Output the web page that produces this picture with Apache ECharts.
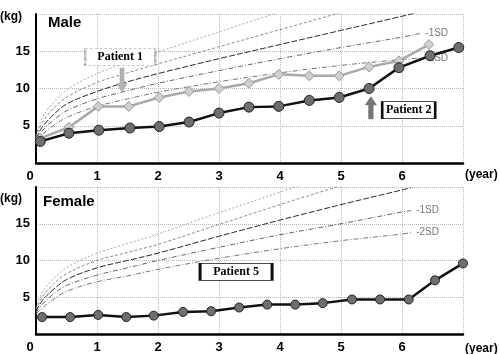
<!DOCTYPE html>
<html><head><meta charset="utf-8">
<script src="https://cdn.jsdelivr.net/npm/echarts@6/dist/echarts.min.js"></script>
<style>html,body{margin:0;padding:0;background:#fff}#c{width:500px;height:354px}</style>
</head><body><div id="c"></div>
<script>
// ---- data ----
const xTicks = [0, 1, 2, 3, 4, 5, 6, 7];
const yTicks = [0, 5, 10, 15, 20];

// Male reference curves
const ageM      = [0,   0.1, 0.25, 0.5, 1,    1.5,  2,    3,    4,    5,    6,    6.3];
const maleP2SD  = [3.7, 6.0, 7.8,  9.8, 12.0, 13.5, 14.9, 17.6, 20.3, 23.0, 25.5, 26.0];
const maleP1SD  = [3.5, 5.4, 7.0,  8.8, 10.8, 12.1, 13.3, 15.6, 17.9, 20.2, 22.5, 23.2];
const maleMean  = [3.3, 4.8, 6.2,  7.9,  9.6, 10.9, 12.0, 14.0, 15.9, 17.8, 19.7, 20.3];
const maleM1SD  = [3.1, 4.3, 5.5,  7.0,  8.6,  9.7, 10.7, 12.4, 14.0, 15.5, 16.9, 17.4];
const maleM2SD  = [2.9, 3.8, 4.8,  6.1,  7.6,  8.6,  9.5, 10.9, 12.1, 13.1, 13.9, 14.1];

// Female reference curves
const ageF       = [0,   0.1, 0.25, 0.5, 1,    1.5,  2,    3,    4,    5,    6,    6.15];
const femP2SD    = [3.5, 5.6, 7.2,  9.0, 11.0, 12.3, 13.6, 16.5, 19.3, 22.1, 24.8, 25.2];
const femP1SD    = [3.3, 5.0, 6.5,  8.2, 10.0, 11.1, 12.2, 14.9, 17.6, 20.2, 22.8, 23.2];
const femMean    = [3.1, 4.5, 5.8,  7.4,  9.0, 10.0, 11.0, 13.3, 15.5, 17.6, 19.6, 19.9];
const femM1SD    = [2.9, 4.0, 5.2,  6.6,  8.0,  9.0, 10.0, 11.8, 13.5, 15.0, 16.6, 16.8];
const femM2SD    = [2.7, 3.5, 4.5,  5.8,  7.1,  7.9,  8.8, 10.3, 11.6, 12.7, 13.6, 13.8];

// Patients
const p1Years = [0.07, 0.54, 1.02, 1.52, 2.02, 2.51, 3.0, 3.49, 3.98, 4.48, 4.97, 5.46, 5.95, 6.44];
const p1Kg    = [3.3, 4.8, 7.6, 7.6, 8.8, 9.6, 10.0, 10.7, 11.9, 11.7, 11.7, 12.9, 13.7, 15.9];
const p2Years = [0.07, 0.54, 1.03, 1.54, 2.02, 2.51, 3.0, 3.49, 3.98, 4.48, 4.97, 5.46, 5.95, 6.46, 6.93];
const p2Kg    = [2.9, 4.0, 4.4, 4.7, 4.9, 5.5, 6.7, 7.5, 7.6, 8.4, 8.8, 10.0, 12.8, 14.4, 15.5];
const p5Years = [0.1, 0.56, 1.02, 1.48, 1.93, 2.41, 2.87, 3.33, 3.79, 4.25, 4.7, 5.18, 5.64, 6.11, 6.54, 7.0];
const p5Kg    = [2.3, 2.3, 2.6, 2.3, 2.5, 3.0, 3.1, 3.6, 4.0, 4.0, 4.2, 4.7, 4.7, 4.7, 7.3, 9.6];

// Annotations (data coordinates)
const notes = {
  p1Box: [1.38, 14.2], p1Arrow: [1.41, 11.1],
  p2Box: [6.11, 7.1],  p2Arrow: [5.49, 7.4],
  p5Box: [3.28, 8.45]
};

// ---- build ----
const zip = (a, b) => a.map((v, i) => [v, b[i]]);
const bold = 'bold 13px "Liberation Sans", Arial, sans-serif';

function curve(name, xi, ages, vals, color, type, endLbl) {
  return {
    type: 'line', name, xAxisIndex: xi, yAxisIndex: xi, data: zip(ages, vals),
    smooth: 0.35, showSymbol: false, silent: true, z: 2,
    lineStyle: { color, width: 1, type },
    endLabel: endLbl ? { show: true, formatter: endLbl, color: '#777', fontSize: 10,
      fontFamily: '"Liberation Sans", Arial', distance: 5 } : { show: false }
  };
}

const xAxisBase = (i) => ({
  type: 'value', gridIndex: i, min: 0, max: 7, interval: 1,
  axisLine: { show: true, lineStyle: { color: '#000', width: 2.5 } },
  axisTick: { show: false },
  splitLine: { show: true, lineStyle: { color: '#b8b8b8', type: 'dotted', width: 1 } },
  axisLabel: {
    margin: 7, color: '#000', fontSize: 13, fontWeight: 'bold', fontFamily: '"Liberation Sans", Arial',
    formatter: v => v === 7 ? '' : (v === 0 ? '{z|0}' : String(v)),
    rich: { z: { fontSize: 13, fontWeight: 'bold', color: '#000', padding: [0, 12, 0, 0] } }
  }
});
const yAxisBase = (i) => ({
  type: 'value', gridIndex: i, min: 0, max: 20, interval: 5,
  axisLine: { show: true, onZero: false, lineStyle: { color: '#000', width: 2 } },
  axisTick: { show: false },
  splitLine: { show: true, lineStyle: { color: '#b8b8b8', type: 'dotted', width: 1 } },
  axisLabel: {
    margin: 6, color: '#000', fontSize: 13, fontWeight: 'bold', fontFamily: '"Liberation Sans", Arial',
    formatter: v => (v === 0 || v === 20) ? '' : String(v)
  }
});

const boxLabel = (txt) => ({
  show: true, position: 'inside', formatter: txt, color: '#000',
  fontSize: 12, fontWeight: 'bold', fontFamily: '"Liberation Serif", "Times New Roman", serif'
});
const downArrow = 'path://M3,0 L7,0 L7,14 L10,14 L5,22 L0,14 L3,14 Z';

const series = [
  curve('+2SD', 0, ageM, maleP2SD, '#a8a8a8', [2, 2]),
  curve('+1SD', 0, ageM, maleP1SD, '#8a8a8a', [3, 2]),
  curve('Mean', 0, ageM, maleMean, '#2a2a2a', [6, 2]),
  curve('-1SD', 0, ageM, maleM1SD, '#666', [5, 2, 1, 2], '-1SD'),
  curve('-2SD', 0, ageM, maleM2SD, '#777', [5, 2, 1, 2], '-2SD'),
  curve('+2SD F', 1, ageF, femP2SD, '#a8a8a8', [2, 2]),
  curve('+1SD F', 1, ageF, femP1SD, '#8a8a8a', [3, 2]),
  curve('Mean F', 1, ageF, femMean, '#2a2a2a', [6, 2]),
  curve('-1SD F', 1, ageF, femM1SD, '#666', [5, 2, 1, 2], '-1SD'),
  curve('-2SD F', 1, ageF, femM2SD, '#777', [5, 2, 1, 2], '-2SD'),
  {
    type: 'line', name: 'Patient 1', xAxisIndex: 0, yAxisIndex: 0, data: zip(p1Years, p1Kg),
    symbol: 'diamond', symbolSize: 10, z: 5,
    lineStyle: { color: '#a9a9a9', width: 2.5 },
    itemStyle: { color: '#cfcfcf', borderColor: '#999', borderWidth: 1 }
  },
  {
    type: 'line', name: 'Patient 2', xAxisIndex: 0, yAxisIndex: 0, data: zip(p2Years, p2Kg),
    symbol: 'circle', symbolSize: 10, z: 6,
    lineStyle: { color: '#111', width: 2.5 },
    itemStyle: { color: '#6e6e6e', borderColor: '#222', borderWidth: 1 }
  },
  {
    type: 'line', name: 'Patient 5', xAxisIndex: 1, yAxisIndex: 1, data: zip(p5Years, p5Kg),
    symbol: 'circle', symbolSize: 9, z: 6,
    lineStyle: { color: '#111', width: 2.5 },
    itemStyle: { color: '#6e6e6e', borderColor: '#222', borderWidth: 1 }
  },
  {
    type: 'scatter', name: 'notesM', xAxisIndex: 0, yAxisIndex: 0, data: [], z: 10, silent: true,
    markPoint: {
      z: 10, silent: true, animation: false,
      data: [
        { coord: notes.p1Box, symbol: 'rect', symbolSize: [70, 17],
          itemStyle: { color: '#fff', borderColor: '#888', borderWidth: 1.2, borderType: 'dotted' },
          label: boxLabel('Patient 1') },
        { coord: notes.p1Arrow, symbol: downArrow, symbolSize: [10, 24], symbolKeepAspect: false,
          itemStyle: { color: '#b5b5b5', borderColor: '#999', borderWidth: 0.5 }, label: { show: false } },
        { coord: notes.p2Box, symbol: 'rect', symbolSize: [53, 17],
          itemStyle: { color: '#fff', borderColor: '#111', borderWidth: 1.5 },
          label: boxLabel('Patient 2') },
        { coord: notes.p2Arrow, symbol: downArrow, symbolSize: [11, 22], symbolRotate: 180, symbolKeepAspect: false,
          itemStyle: { color: '#777', borderColor: '#555', borderWidth: 0.5 }, label: { show: false } }
      ]
    }
  },
  {
    type: 'scatter', name: 'notesF', xAxisIndex: 1, yAxisIndex: 1, data: [], z: 10, silent: true,
    markPoint: {
      z: 10, silent: true, animation: false,
      data: [
        { coord: notes.p5Box, symbol: 'rect', symbolSize: [72, 17],
          itemStyle: { color: '#fff', borderColor: '#111', borderWidth: 1.5 },
          label: boxLabel('Patient 5') }
      ]
    }
  }
];

const txt = (x, y, t, size) => ({ type: 'text', left: x, top: y, z: 20,
  style: { text: t, font: `bold ${size}px "Liberation Sans", Arial, sans-serif`, fill: '#000' } });

const option = {
  animation: false,
  backgroundColor: '#fff',
  grid: [
    { left: 36, top: 14, width: 427, height: 149 },
    { left: 36, top: 187, width: 427, height: 154 }
  ],
  xAxis: [xAxisBase(0), xAxisBase(1)],
  yAxis: [yAxisBase(0), yAxisBase(1)],
  series,
  graphic: [
    txt(0, 11, '(kg)', 12),
    txt(48, 15, 'Male', 15),
    txt(465, 169, '(year)', 12),
    txt(0, 193, '(kg)', 12),
    txt(43, 194, 'Female', 15),
    txt(465, 343, '(year)', 12)
  ]
};

const chart = echarts.init(document.getElementById('c'), null, { renderer: 'canvas' });
chart.setOption(option);
</script></body></html>
